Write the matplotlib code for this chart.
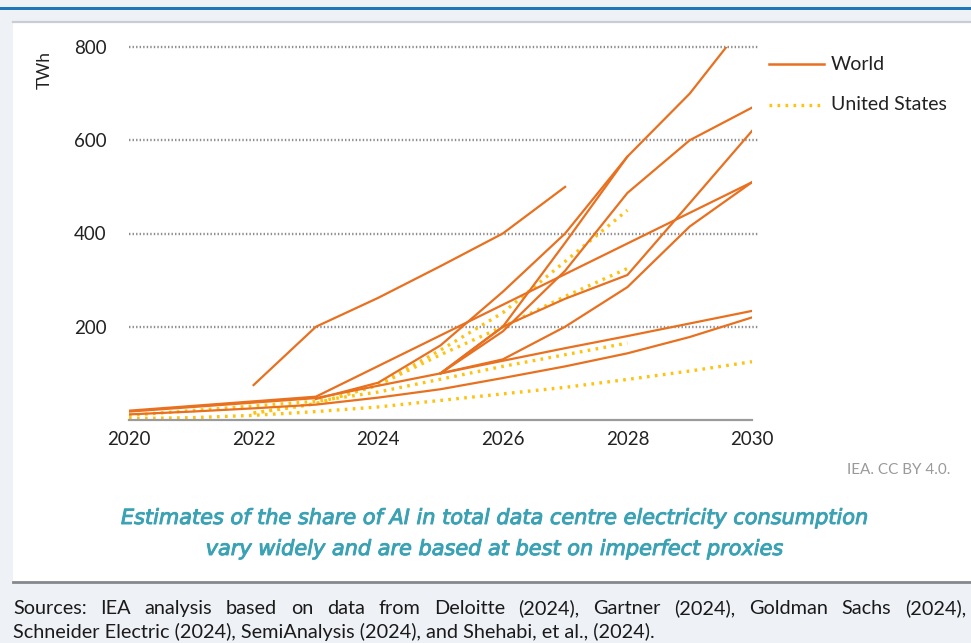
import numpy as np
import matplotlib
matplotlib.use("Agg")
import matplotlib.pyplot as plt
import matplotlib.patheffects as pe
from matplotlib.patches import Rectangle
from matplotlib.lines import Line2D

plt.rcParams['font.family'] = ['Lato', 'DejaVu Sans']

# ---------------------------------------------------------------- data
years = list(range(2020, 2031))
nan = np.nan

# World estimates (TWh), one value per year 2020..2030, nan where a source gives none
world_a = [nan, nan, 75, 200, 262, 330, 400, 500, nan, nan, nan]
world_b = [nan, nan, nan, 45, 80, 160, 275, 400, 565, 700, 870]
world_c = [nan, nan, nan, nan, nan, 100, 190, 320, 487, 600, 670]
world_d = [nan, nan, nan, nan, nan, 100, 200, 260, 311, 465, 620]
world_e = [20, nan, nan, 50, nan, nan, nan, nan, nan, nan, 510]
world_f = [nan, nan, nan, nan, nan, 100, 130, 200, 285, 415, 510]
world_g = [18, nan, nan, 47, nan, 100, 127, 154, 180, 207, 234]
world_h = [12, 18, 25, 33, 48, 66, 90, 115, 143, 178, 220]
world_i = [nan, nan, nan, nan, nan, 100, 200, 380, 565, nan, nan]

# United States estimates (TWh)
us_a = [3, 5, 10, 18, 28, 42, 56, 70, 87, 105, 125]
us_b = [10, nan, nan, 40, 60, nan, 115, nan, 165, nan, nan]
us_c = [nan, nan, 15, 35, 75, 140, 200, 265, 325, nan, nan]
us_d = [nan, nan, 15, 35, 75, 150, 230, 340, 450, nan, nan]

world_series = [world_a, world_b, world_c, world_d, world_e,
                world_f, world_g, world_h, world_i]
us_series = [us_a, us_b, us_c, us_d]

x_ticks = [2020, 2022, 2024, 2026, 2028, 2030]
y_ticks = [200, 400, 600, 800]

WORLD_COLOR = '#E8701F'
US_COLOR = '#FFC20E'
TEAL = '#3AA2B4'
GRID_COLOR = '#8e8e8e'

W, H = 971, 643


def fx(px):
    return px / W


def fy(py):
    return 1 - py / H


fig = plt.figure(figsize=(W / 100, H / 100), dpi=100)
fig.patch.set_facecolor('#eef1f6')

# page furniture: blue rule, white card, card borders
fig.add_artist(Rectangle((0, fy(9.5)), 1, 3 / H, transform=fig.transFigure,
                         facecolor='#1f77b8', edgecolor='none', zorder=0))
fig.add_artist(Rectangle((fx(13), fy(582)), fx(W - 13), (582 - 21) / H,
                         transform=fig.transFigure, facecolor='white',
                         edgecolor='none', zorder=0))
fig.add_artist(Line2D([fx(13), 1], [fy(22), fy(22)], transform=fig.transFigure,
                      color='#c9cdd3', lw=1.6, zorder=1))
fig.add_artist(Line2D([fx(13), 1], [fy(582), fy(582)], transform=fig.transFigure,
                      color='#85888c', lw=2.0, zorder=1))

# ---------------------------------------------------------------- axes
ax = fig.add_axes([fx(129), fy(420), fx(752) - fx(129), (420 - 47) / H])
ax.set_facecolor('none')
ax.set_xlim(2020, 2030)
ax.set_ylim(0, 800)

for v in y_ticks:
    ax.plot([2020, 2030.1], [v, v], color=GRID_COLOR, lw=1.7,
            linestyle=(0, (0.6, 0.9)), clip_on=False, zorder=1)

for s in us_series:
    arr = np.array(s, dtype=float)
    m = ~np.isnan(arr)
    ax.plot(np.array(years)[m], arr[m], color=US_COLOR, lw=2.4,
            linestyle=(0, (0.8, 1.6)), zorder=3)

for s in world_series:
    arr = np.array(s, dtype=float)
    m = ~np.isnan(arr)
    ax.plot(np.array(years)[m], arr[m], color=WORLD_COLOR, lw=1.6,
            solid_joinstyle='miter', zorder=4)

for side in ['left', 'right', 'top']:
    ax.spines[side].set_visible(False)
ax.spines['bottom'].set_color('#9b9b9b')
ax.spines['bottom'].set_linewidth(1.6)
ax.spines['bottom'].set_zorder(5)

ax.set_xticks(x_ticks)
ax.set_xticklabels([str(t) for t in x_ticks])
ax.set_yticks(y_ticks)
ax.set_yticklabels([str(t) for t in y_ticks])
ax.tick_params(axis='both', length=0, labelsize=13.5, colors='#222222')
ax.tick_params(axis='x', pad=8)
ax.tick_params(axis='y', pad=16)

fig.text(fx(45), fy(70), 'TWh', rotation=90, ha='center', va='center',
         fontsize=12.5, color='#222222')

# legend
fig.add_artist(Line2D([fx(769), fx(824)], [fy(64), fy(64)], transform=fig.transFigure,
                      color=WORLD_COLOR, lw=1.8))
fig.add_artist(Line2D([fx(769), fx(824)], [fy(105), fy(105)], transform=fig.transFigure,
                      color=US_COLOR, lw=2.4, linestyle=(0, (0.8, 1.6))))
fig.text(fx(831), fy(64), 'World', ha='left', va='center', fontsize=14, color='#222222')
fig.text(fx(831), fy(105), 'United States', ha='left', va='center', fontsize=14,
         color='#222222')

fig.text(fx(950), fy(470), 'IEA. CC BY 4.0.', ha='right', va='center', fontsize=11,
         color='#9a9a9a')

# caption
cap_font = dict(ha='center', va='center', fontsize=15, style='italic',
                color=TEAL, family=['DejaVu Sans'],
                path_effects=[pe.withStroke(linewidth=0.7, foreground=TEAL)])
fig.text(fx(495), fy(518),
         'Estimates of the share of AI in total data centre electricity consumption',
         **cap_font)
fig.text(fx(495), fy(549), 'vary widely and are based at best on imperfect proxies',
         **cap_font)

# sources note, first line justified across the page
src_line1 = 'Sources: IEA analysis based on data from Deloitte (2024), Gartner (2024), Goldman Sachs (2024),'
src_line2 = 'Schneider Electric (2024), SemiAnalysis (2024), and Shehabi, et al., (2024).'
src_size = 14.3
left_px, right_px = 13, 966

renderer = fig.canvas.get_renderer()
words = src_line1.split(' ')
objs = [fig.text(0, fy(614), w, ha='left', va='baseline', fontsize=src_size, color='#1a1a1a')
        for w in words]
widths = [o.get_window_extent(renderer).width for o in objs]
gap = ((right_px - left_px) - sum(widths)) / (len(words) - 1)
xpos = left_px
for o, wdt in zip(objs, widths):
    o.set_x(fx(xpos))
    xpos += wdt + gap
fig.text(fx(left_px), fy(638), src_line2, ha='left', va='baseline', fontsize=src_size,
         color='#1a1a1a')

fig.savefig('out.png', dpi=100, facecolor=fig.get_facecolor())
